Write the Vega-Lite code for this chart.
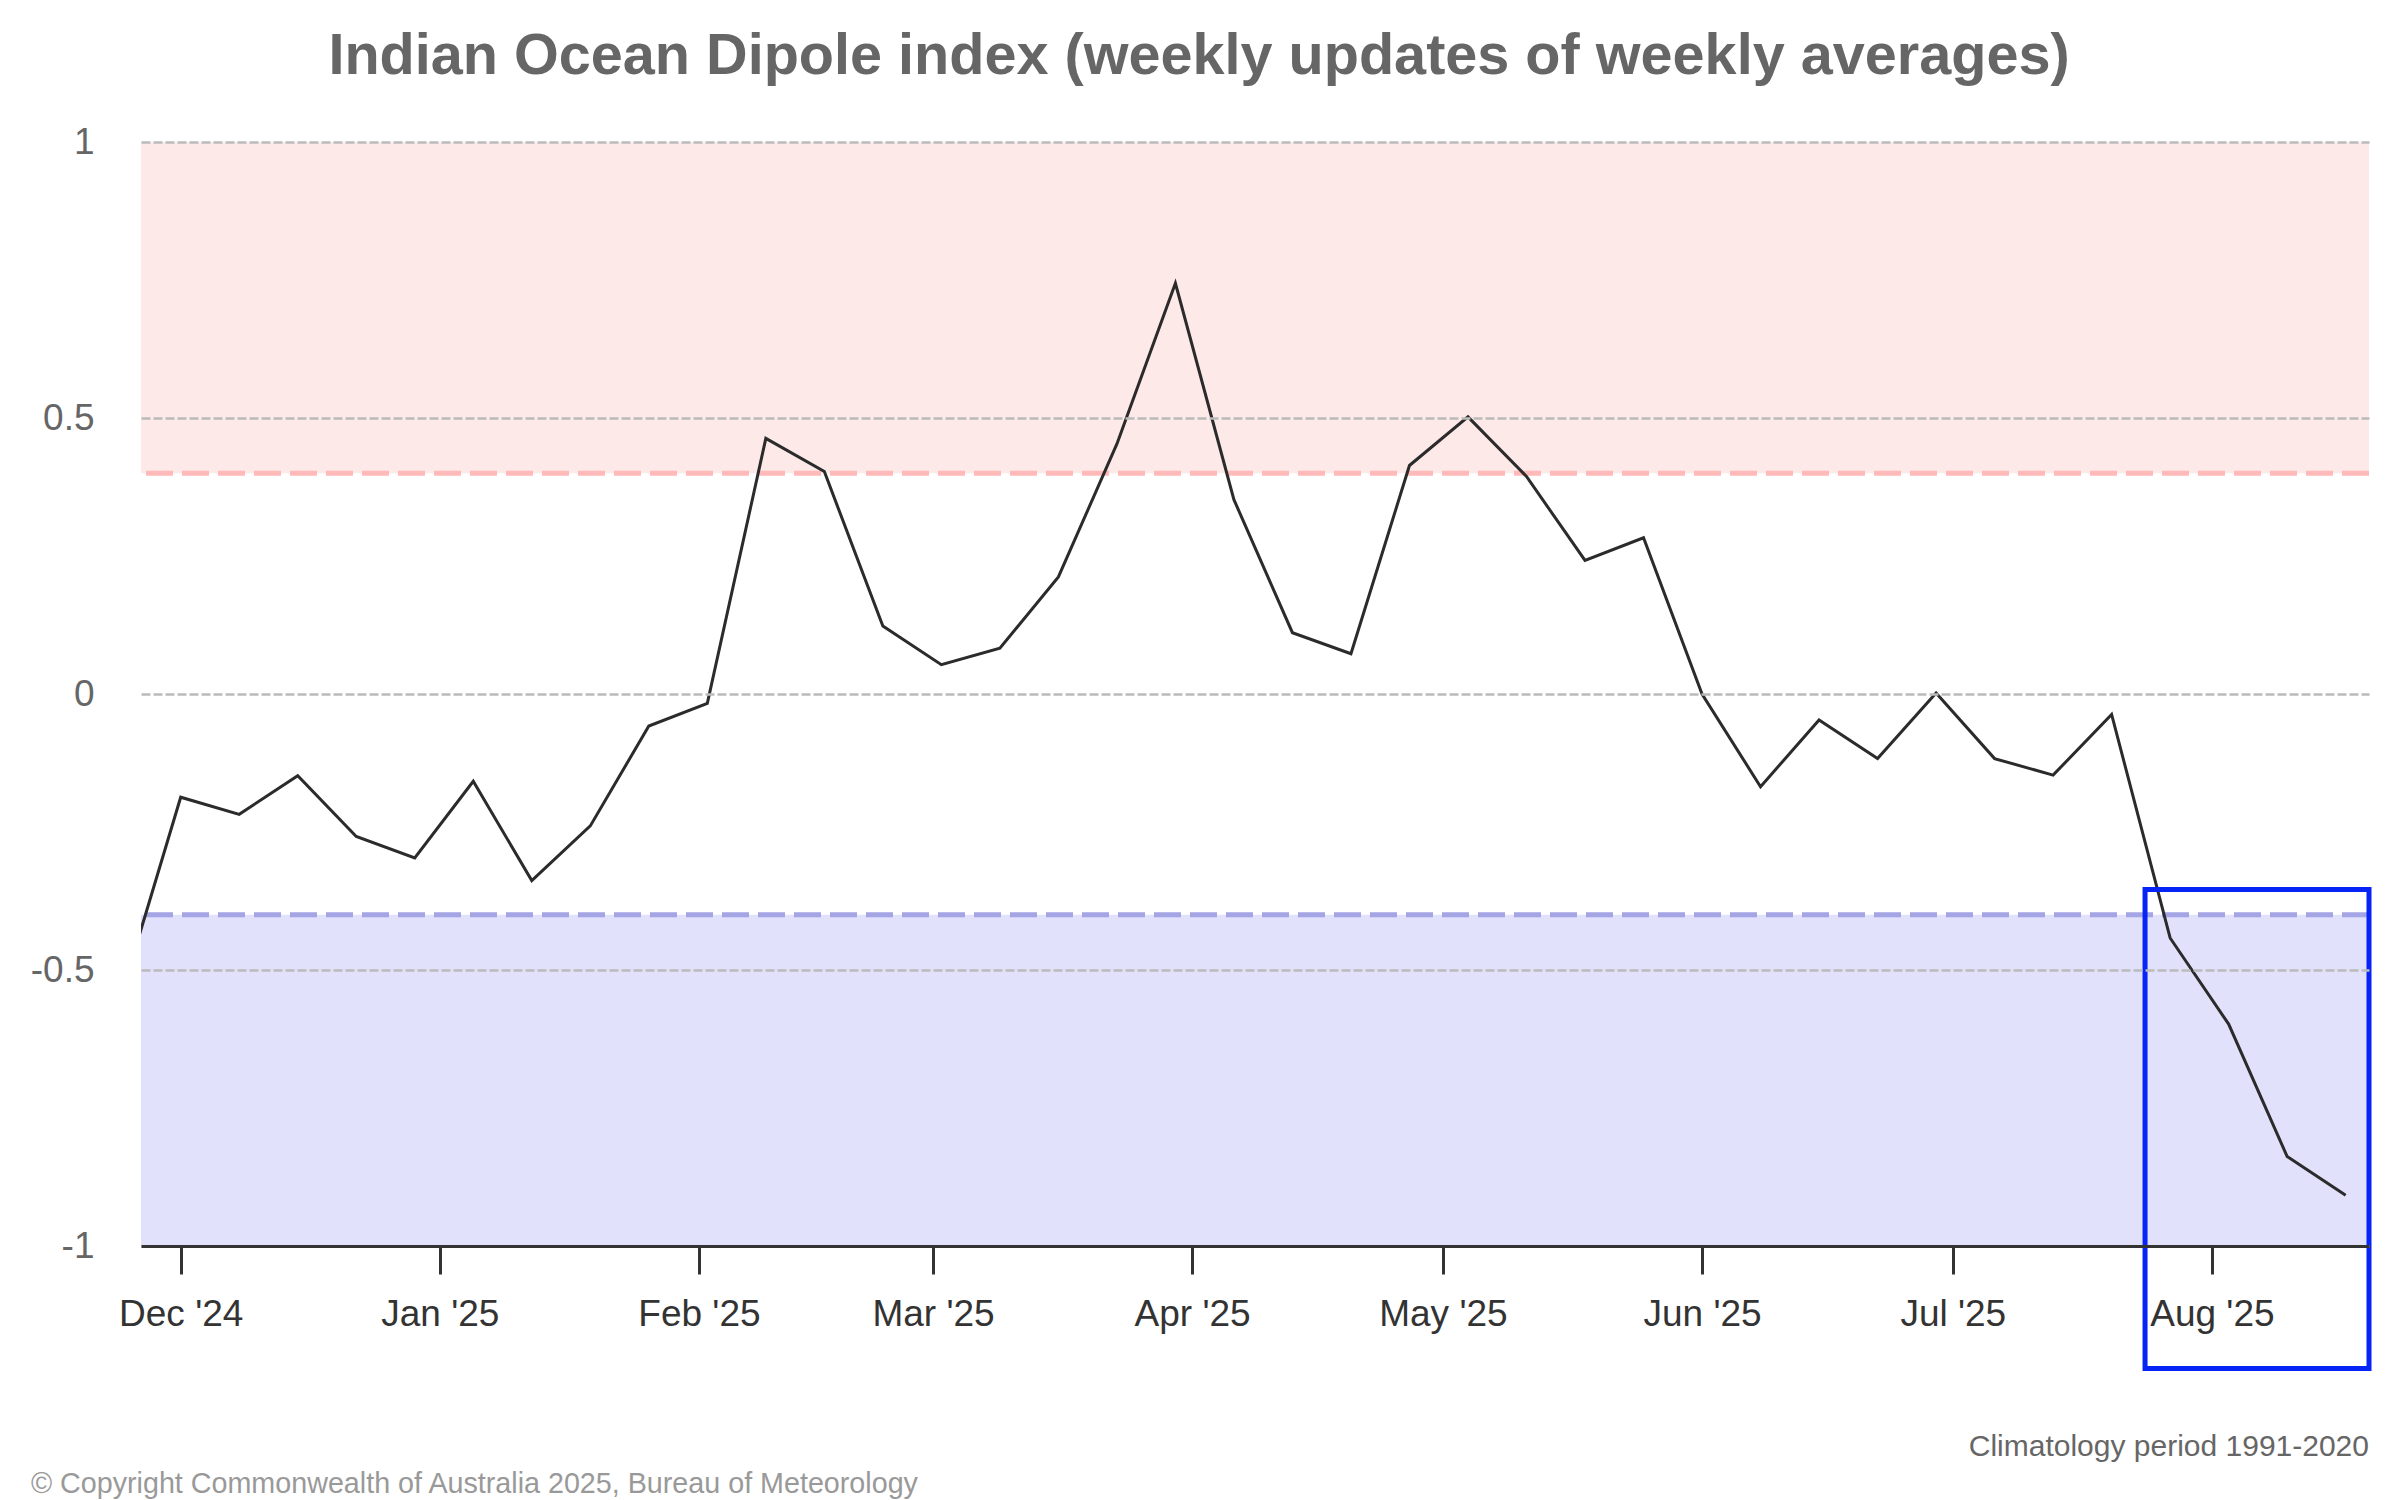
{
  "$schema": "https://vega.github.io/schema/vega-lite/v6.json",
  "width": 2228,
  "height": 1104,
  "autosize": {"type": "none"},
  "padding": {"left": 141, "top": 142, "right": 31, "bottom": 254},
  "background": "white",
  "config": {"view": {"stroke": null}, "font": "Liberation Sans"},
  "title": {
    "text": "Indian Ocean Dipole index (weekly updates of weekly averages)",
    "font": "Liberation Sans",
    "fontSize": 57.6,
    "fontWeight": "bold",
    "color": "#666666",
    "anchor": "middle",
    "frame": "group",
    "dx": -56,
    "baseline": "alphabetic",
    "offset": -9
  },
  "datasets": {
    "iod": [
      {"date": "2024-11-24", "value": -0.54},
      {"date": "2024-12-01", "value": -0.187},
      {"date": "2024-12-08", "value": -0.218},
      {"date": "2024-12-15", "value": -0.148},
      {"date": "2024-12-22", "value": -0.258},
      {"date": "2024-12-29", "value": -0.297},
      {"date": "2025-01-05", "value": -0.158},
      {"date": "2025-01-12", "value": -0.338},
      {"date": "2025-01-19", "value": -0.239},
      {"date": "2025-01-26", "value": -0.058},
      {"date": "2025-02-02", "value": -0.017},
      {"date": "2025-02-09", "value": 0.463},
      {"date": "2025-02-16", "value": 0.403},
      {"date": "2025-02-23", "value": 0.123},
      {"date": "2025-03-02", "value": 0.053},
      {"date": "2025-03-09", "value": 0.083},
      {"date": "2025-03-16", "value": 0.212},
      {"date": "2025-03-23", "value": 0.453},
      {"date": "2025-03-30", "value": 0.744},
      {"date": "2025-04-06", "value": 0.352},
      {"date": "2025-04-13", "value": 0.111},
      {"date": "2025-04-20", "value": 0.073},
      {"date": "2025-04-27", "value": 0.414},
      {"date": "2025-05-04", "value": 0.502},
      {"date": "2025-05-11", "value": 0.394},
      {"date": "2025-05-18", "value": 0.242},
      {"date": "2025-05-25", "value": 0.283},
      {"date": "2025-06-01", "value": 0.0},
      {"date": "2025-06-08", "value": -0.168},
      {"date": "2025-06-15", "value": -0.047},
      {"date": "2025-06-22", "value": -0.117},
      {"date": "2025-06-29", "value": 0.002},
      {"date": "2025-07-06", "value": -0.117},
      {"date": "2025-07-13", "value": -0.147},
      {"date": "2025-07-20", "value": -0.037},
      {"date": "2025-07-27", "value": -0.442},
      {"date": "2025-08-03", "value": -0.598},
      {"date": "2025-08-10", "value": -0.838},
      {"date": "2025-08-17", "value": -0.908}
    ],
    "one": [{}]
  },
  "data": {"name": "one"},
  "layer": [
    {
      "mark": {"type": "rect", "color": "#fee9e9"},
      "encoding": {
        "y": {"datum": 0.4, "type": "quantitative"},
        "y2": {"datum": 1}
      }
    },
    {
      "mark": {"type": "rect", "color": "#e1e1fc"},
      "encoding": {
        "y": {"datum": -1, "type": "quantitative"},
        "y2": {"datum": -0.4}
      }
    },
    {
      "mark": {"type": "rule", "color": "#ffb9b9", "strokeWidth": 5, "strokeDash": [27, 9]},
      "encoding": {"y": {"datum": 0.4, "type": "quantitative"}}
    },
    {
      "mark": {"type": "rule", "color": "#a5a5e5", "strokeWidth": 5, "strokeDash": [27, 9]},
      "encoding": {"y": {"datum": -0.4, "type": "quantitative"}}
    },
    {
      "data": {"name": "iod"},
      "mark": {"type": "line", "color": "#2b2b2b", "strokeWidth": 3, "clip": true},
      "encoding": {
        "x": {
          "field": "date",
          "type": "temporal",
          "scale": {
            "type": "utc",
            "domain": [
              {"year": 2024, "month": 11, "date": 26, "hours": 6, "utc": true},
              {"year": 2025, "month": 8, "date": 19, "hours": 19, "utc": true}
            ]
          },
          "axis": {
            "title": null,
            "values": [
              {"year": 2024, "month": 12, "date": 1, "utc": true},
              {"year": 2025, "month": 1, "date": 1, "utc": true},
              {"year": 2025, "month": 2, "date": 1, "utc": true},
              {"year": 2025, "month": 3, "date": 1, "utc": true},
              {"year": 2025, "month": 4, "date": 1, "utc": true},
              {"year": 2025, "month": 5, "date": 1, "utc": true},
              {"year": 2025, "month": 6, "date": 1, "utc": true},
              {"year": 2025, "month": 7, "date": 1, "utc": true},
              {"year": 2025, "month": 8, "date": 1, "utc": true}
            ],
            "labelExpr": "utcFormat(datum.value, \"%b '%y\")",
            "labelFont": "Liberation Sans",
            "labelFontSize": 37,
            "labelColor": "#333333",
            "labelPadding": 22,
            "labelFlush": false,
            "labelOverlap": false,
            "tickSize": 28,
            "tickWidth": 3,
            "tickColor": "#333333",
            "domainColor": "#333333",
            "domainWidth": 3,
            "grid": false,
            "zindex": 1
          }
        },
        "y": {
          "field": "value",
          "type": "quantitative",
          "scale": {"domain": [-1, 1], "nice": false, "zero": false},
          "axis": {
            "title": null,
            "values": [-1, -0.5, 0, 0.5, 1],
            "labelExpr": "toString(datum.value)",
            "labelFont": "Liberation Sans",
            "labelFontSize": 37,
            "labelColor": "#666666",
            "labelPadding": 47,
            "ticks": false,
            "domain": false,
            "grid": true,
            "gridColor": "#bbbbbb",
            "gridDash": [9, 3],
            "gridWidth": 2.5,
            "zindex": 1
          }
        }
      }
    },
    {
      "mark": {"type": "rect", "filled": false, "stroke": "#0624f6", "strokeWidth": 5, "clip": false},
      "encoding": {
        "x": {"datum": {"year": 2025, "month": 7, "date": 24, "utc": true}, "type": "temporal"},
        "x2": {"datum": {"year": 2025, "month": 8, "date": 19, "hours": 19, "utc": true}},
        "y": {"datum": -0.354, "type": "quantitative"},
        "y2": {"datum": -1.222}
      }
    },
    {
      "mark": {"type": "text", "align": "right", "baseline": "alphabetic", "fontSize": 30, "fontWeight": "normal", "color": "#666666", "font": "Liberation Sans", "clip": false},
      "encoding": {
        "x": {"datum": {"year": 2025, "month": 8, "date": 19, "hours": 19, "utc": true}, "type": "temporal"},
        "y": {"datum": -1.38, "type": "quantitative"},
        "text": {"value": "Climatology period 1991-2020"}
      }
    },
    {
      "mark": {"type": "text", "align": "left", "baseline": "alphabetic", "fontSize": 28.7, "fontWeight": "normal", "color": "#999999", "font": "Liberation Sans", "clip": false},
      "encoding": {
        "x": {"datum": {"year": 2024, "month": 11, "date": 13, "hours": 2, "utc": true}, "type": "temporal"},
        "y": {"datum": -1.4475, "type": "quantitative"},
        "text": {"value": "© Copyright Commonwealth of Australia 2025, Bureau of Meteorology"}
      }
    }
  ]
}
